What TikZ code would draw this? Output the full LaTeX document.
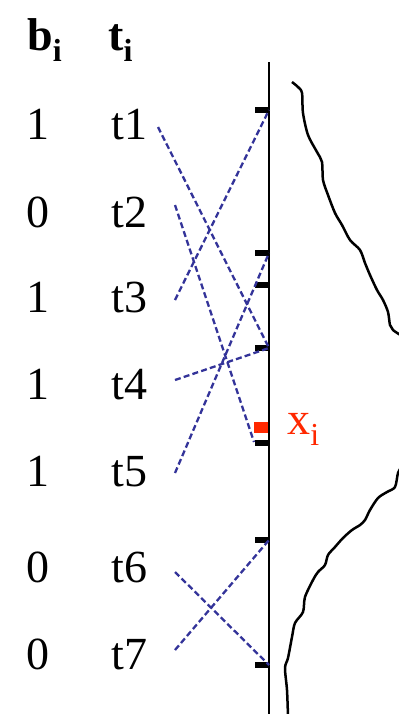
\documentclass[tikz,border=0pt]{standalone}
\usepackage{fontspec}
\setmainfont{Liberation Serif}
\usepackage{tikz}
\definecolor{linkblue}{RGB}{51,51,153}
\definecolor{markred}{RGB}{255,40,0}
\newcommand{\subi}[1]{{\fontsize{16}{16}\selectfont\raisebox{-5.5pt}{#1}}}

\begin{document}
\begin{tikzpicture}[x=0.5pt, y=-0.5pt, font=\fontsize{23}{27}\selectfont,
  lbl/.style={anchor=base west, inner sep=0pt},
  lnk/.style={draw=linkblue, line width=1.15pt, dash pattern=on 3pt off 1.6pt},
  tickmark/.style={line width=2.7pt}]
\useasboundingbox (0,0) rectangle (399,714);
% ---- header
\node[lbl] (hb) at (27,50) {\textbf{b\subi{\textbf{i}}}};
\node[lbl] (ht) at (108,50) {\textbf{t\subi{\textbf{i}}}};
% ---- rows b_i / t_i
\foreach \n/\b/\y in {1/1/139, 2/0/227, 3/1/312, 4/1/399, 5/1/486, 6/0/582, 7/0/669} {
  \node[lbl] (b\n) at (26,\y) {\b};
  \node[lbl] (t\n) at (111,\y) {t\n};
}
% ---- axis with ticks
\coordinate (top) at (269,62);
\coordinate (bot) at (269,714);
\draw[line width=1.35pt] (top) -- (bot);
\foreach \n/\y in {1/110, 2/253, 3/285, 4/348, 5/443, 6/540, 7/665} {
  \coordinate (k\n) at (269,\y);
  \draw[tickmark] (255,\y) -- (k\n);
}
\fill[markred] (254,422) rectangle (268,433);
\node[lbl, text=markred] (xi) at (287,434) {x\subi{i}};
% ---- dashed links
\coordinate (s1) at (158,127);
\coordinate (s2) at (175,205);
\coordinate (s3) at (175,300);
\coordinate (s4) at (175,380);
\coordinate (s5) at (175,473);
\coordinate (s6) at (175,572);
\coordinate (s7) at (175,650);
\coordinate (k5l) at (254,442);
\draw[lnk] (s1) -- (k4);
\draw[lnk] (s2) -- (k5l);
\draw[lnk] (s3) -- (k1);
\draw[lnk] (s4) -- (k4);
\draw[lnk] (s5) -- (k2);
\draw[lnk] (s6) -- (k7);
\draw[lnk] (s7) -- (k6);
% ---- density curve
\draw[line width=1.25pt, line join=round] plot[smooth, tension=0.5] coordinates {
  (292,82) (298,87) (302,93) (303,113) (308,135) (317,152) (322,162) (323,180)
  (328,195) (335,213) (342,225) (350,240) (360,250) (365,263) (370,275) (377,290)
  (383,300) (388,312) (390,325) (393,330) (402,336)};
\draw[line width=1.25pt, line join=round] plot[smooth, tension=0.5] coordinates {
  (402,466) (398,473) (395,487) (387,492) (378,498) (370,510) (365,520) (360,525)
  (352,530) (343,538) (335,547) (328,555) (325,565) (318,572) (313,580) (305,597)
  (303,612) (295,623) (292,637) (288,658) (285,668) (287,690) (288,716)};
\end{tikzpicture}
\end{document}
